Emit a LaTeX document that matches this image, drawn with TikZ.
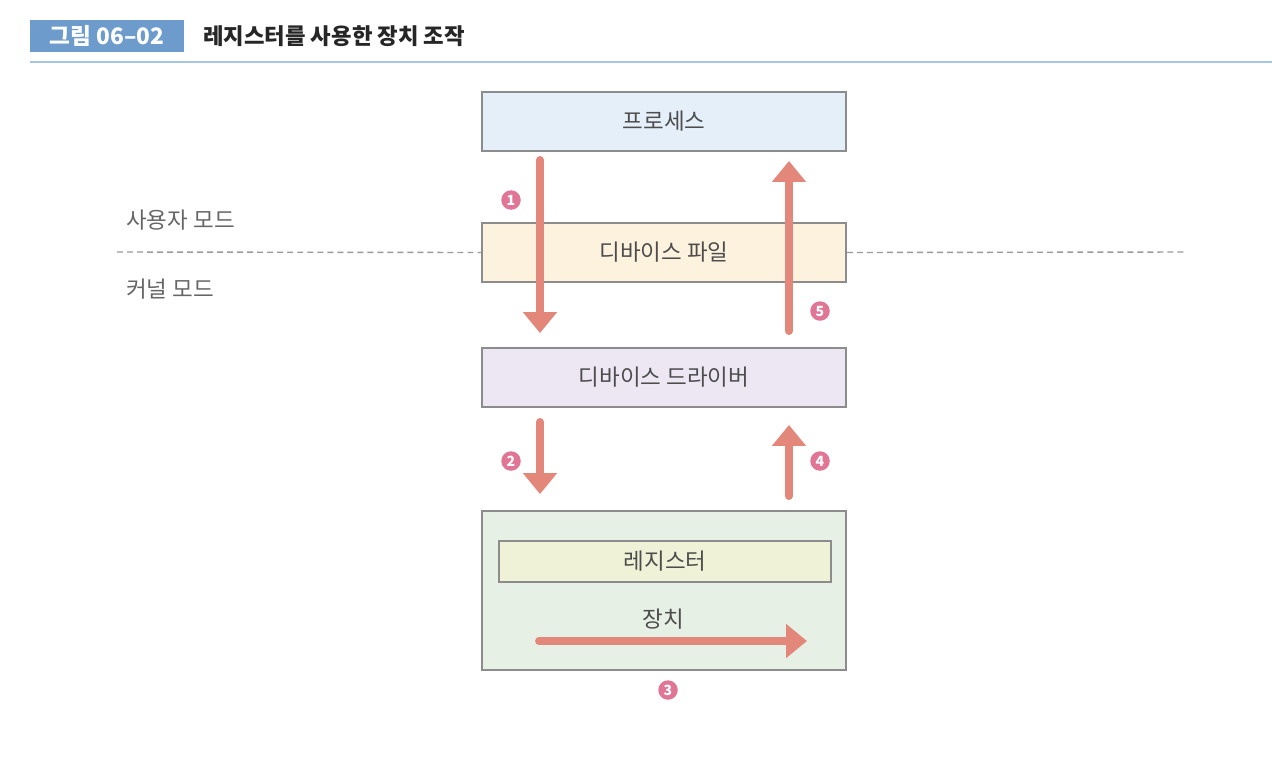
\documentclass[tikz,border=0pt]{standalone}
\usepackage{fontspec}
\setmainfont{Noto Sans CJK KR}
\usetikzlibrary{calc}
\usetikzlibrary{arrows.meta}

\definecolor{procfill}{HTML}{E5EFF9}
\definecolor{filefill}{HTML}{FDF2DE}
\definecolor{drvfill}{HTML}{ECE7F3}
\definecolor{devfill}{HTML}{E7F0E5}
\definecolor{regfill}{HTML}{EFF2D6}
\definecolor{boxline}{HTML}{8C8C8C}
\definecolor{flowcol}{HTML}{E4877B}
\definecolor{badgecol}{HTML}{E07595}
\definecolor{tagfill}{HTML}{6C9BCC}
\definecolor{rulecol}{HTML}{A7C5E4}
\definecolor{dashcol}{HTML}{9A9A9A}
\definecolor{labeltext}{HTML}{4D4D4D}
\definecolor{modetext}{HTML}{666666}

\begin{document}
\begin{tikzpicture}[x=0.02cm, y=-0.02cm]
    \def\boxw{7.28cm}
    \def\boxh{1.18cm}
    \def\startgap{8}
    \def\tipgap{14}
    \tikzstyle{layer}=[rectangle, draw=boxline, line width=1.1pt, minimum width=\boxw, minimum height=\boxh, text=labeltext, font=\fontsize{12.8}{15}\selectfont]
    \tikzstyle{flow}=[draw=flowcol, line width=4.5pt, line cap=round, -{Triangle[width=0.66cm, length=0.42cm]}]
    \tikzstyle{badge}=[circle, fill=badgecol, text=white, inner sep=0pt, minimum size=0.39cm, font=\bfseries\fontsize{8}{9}\selectfont]
    \tikzstyle{mode}=[anchor=west, text=modetext, font=\fontsize{12.8}{15}\selectfont]
    \tikzstyle{divider}=[draw=dashcol, line width=0.8pt, dash pattern=on 3.4pt off 2.3pt]

    \useasboundingbox (0,0) rectangle (1272,762);

    % header
    \node (tag) [rectangle, fill=tagfill, minimum width=3.08cm, minimum height=0.56cm, text=white, font=\bfseries\fontsize{12.9}{15}\selectfont] at (107,36) {그림 06–02};
    \node (title) [anchor=west, text=black!85, font=\bfseries\fontsize{12.7}{15}\selectfont] at (197,36) {레지스터를 사용한 장치 조작};
    \coordinate (hl) at (30,62);
    \coordinate (hr) at (1272,62);
    \draw[rulecol, line width=1.1pt] (hl) -- (hr);

    % nodes
    \node (proc) [layer, fill=procfill] at (664,121.5) {프로세스};
    \node (file) [layer, fill=filefill] at (664,252.5) {디바이스 파일};
    \node (drv) [layer, fill=drvfill] at (664,377.5) {디바이스 드라이버};
    \node (dev) [layer, fill=devfill, minimum height=3.18cm] at (664,590.5) {};
    \node (reg) [layer, fill=regfill, minimum width=6.64cm, minimum height=0.82cm] at (665,561.5) {레지스터};
    \node (devlabel) [text=labeltext, font=\fontsize{12.8}{15}\selectfont] at (663,619) {장치};

    % mode split
    \coordinate (dl) at (117,252);
    \coordinate (dr) at (1185,252);
    \draw[divider] (dl) -- (file.west);
    \draw[divider] (file.east) -- (dr);
    \node (user) [mode] at (120,220) {사용자 모드};
    \node (kernel) [mode] at (120,289) {커널 모드};

    % arrows
    \coordinate (l) at (540,0);
    \coordinate (r) at (789,0);
    \draw[flow] ($(proc.south -| l)+(0,\startgap)$) -- ($(drv.north -| l)+(0,-\tipgap)$);
    \draw[flow] ($(drv.north -| r)+(0,-16)$) -- ($(proc.south -| r)+(0,9)$);
    \draw[flow] ($(drv.south -| l)+(0,14)$) -- ($(dev.north -| l)+(0,-16)$);
    \draw[flow] ($(dev.north -| r)+(0,-14)$) -- ($(drv.south -| r)+(0,17)$);
    \coordinate (ia) at (539,641);
    \coordinate (ib) at (807,641);
    \draw[flow] (ia) -- (ib);

    % badges
    \node (b1) [badge] at (511,200) {1};
    \node (b2) [badge] at (511,461) {2};
    \node (b3) [badge] at (668,690) {3};
    \node (b4) [badge] at (820,461) {4};
    \node (b5) [badge] at (820,311) {5};
\end{tikzpicture}
\end{document}
